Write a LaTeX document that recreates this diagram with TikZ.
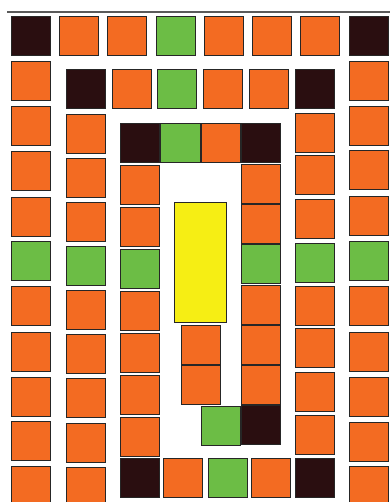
\documentclass[tikz,border=0pt]{standalone}
\definecolor{orc}{HTML}{F36B22}
\definecolor{grc}{HTML}{6CBD45}
\definecolor{bkc}{HTML}{2A0E10}
\definecolor{yec}{HTML}{F6EE14}
\definecolor{lnc}{HTML}{5A5A5A}
\newcommand{\cell}[4]{\node[cellbox, fill=#4] (#1) at ({#2+20},{#3+20}) {};}
\begin{document}
\begin{tikzpicture}[x=1pt,y=-1pt,
  cellbox/.style={draw=black!85, line width=0.9pt, minimum size=39.5pt, inner sep=0pt, outer sep=0pt}]
\clip (0,0) rectangle (390,502);
\fill[white] (0,0) rectangle (390,502);
\coordinate (la) at (7,12);
\coordinate (lb) at (390,12);
\draw[lnc, line width=2.2pt] (la) -- (lb);
% column 1
\cell{aA}{11}{16}{bkc}
\cell{aB}{11}{61}{orc}
\cell{aC}{11}{106}{orc}
\cell{aD}{11}{151}{orc}
\cell{aE}{11}{197}{orc}
\cell{aF}{11}{241}{grc}
\cell{aG}{11}{286}{orc}
\cell{aH}{11}{332}{orc}
\cell{aI}{11}{377}{orc}
\cell{aJ}{11}{421}{orc}
\cell{aK}{11}{466}{orc}
% top row
\cell{tB}{59}{16}{orc}
\cell{tC}{107}{16}{orc}
\cell{tD}{156}{16}{grc}
\cell{tE}{204}{16}{orc}
\cell{tF}{252}{16}{orc}
\cell{tG}{300}{16}{orc}
% column 8
\cell{hA}{349}{16}{bkc}
\cell{hB}{349}{61}{orc}
\cell{hC}{349}{106}{orc}
\cell{hD}{349}{150}{orc}
\cell{hE}{349}{196}{orc}
\cell{hF}{349}{241}{grc}
\cell{hG}{349}{286}{orc}
\cell{hH}{349}{332}{orc}
\cell{hI}{349}{377}{orc}
\cell{hJ}{349}{422}{orc}
\cell{hK}{349}{466}{orc}
% column 2
\cell{bA}{66}{69}{bkc}
\cell{bB}{66}{114}{orc}
\cell{bC}{66}{158}{orc}
\cell{bD}{66}{202}{orc}
\cell{bE}{66}{246}{grc}
\cell{bF}{66}{290}{orc}
\cell{bG}{66}{334}{orc}
\cell{bH}{66}{378}{orc}
\cell{bI}{66}{423}{orc}
\cell{bJ}{66}{467}{orc}
% second row
\cell{sB}{112}{69}{orc}
\cell{sC}{157}{69}{grc}
\cell{sD}{203}{69}{orc}
\cell{sE}{249}{69}{orc}
% column 7
\cell{gA}{295}{69}{bkc}
\cell{gB}{295}{113}{orc}
\cell{gC}{295}{155}{orc}
\cell{gD}{295}{199}{orc}
\cell{gE}{295}{243}{grc}
\cell{gF}{295}{286}{orc}
\cell{gG}{295}{328}{orc}
\cell{gH}{295}{372}{orc}
\cell{gI}{295}{415}{orc}
\cell{gJ}{295}{458}{bkc}
% column 3
\cell{cA}{120}{123}{bkc}
\cell{cB}{120}{165}{orc}
\cell{cC}{120}{207}{orc}
\cell{cD}{120}{249}{grc}
\cell{cE}{120}{291}{orc}
\cell{cF}{120}{333}{orc}
\cell{cG}{120}{375}{orc}
\cell{cH}{120}{417}{orc}
\cell{cI}{120}{458}{bkc}
% inner top row
\cell{iB}{160.5}{123}{grc}
\cell{iC}{201}{123}{orc}
% column 6
\cell{fA}{241}{123}{bkc}
\cell{fB}{241}{164}{orc}
\cell{fC}{241}{204}{orc}
\cell{fD}{241}{244}{grc}
\cell{fE}{241}{285}{orc}
\cell{fF}{241}{325}{orc}
\cell{fG}{241}{365}{orc}
\cell{fH}{241}{405}{bkc}
% bottom row
\cell{uB}{163}{458}{orc}
\cell{uC}{208}{458}{grc}
\cell{uD}{251}{458}{orc}
% centre
\node[draw=black!85, line width=0.9pt, fill=yec, minimum width=52.5pt, minimum height=120.5pt, inner sep=0pt, outer sep=0pt] (yel) at (200.5,262.5) {};
\cell{mA}{181}{325}{orc}
\cell{mB}{181}{365}{orc}
\cell{mC}{201}{406}{grc}
\end{tikzpicture}
\end{document}
